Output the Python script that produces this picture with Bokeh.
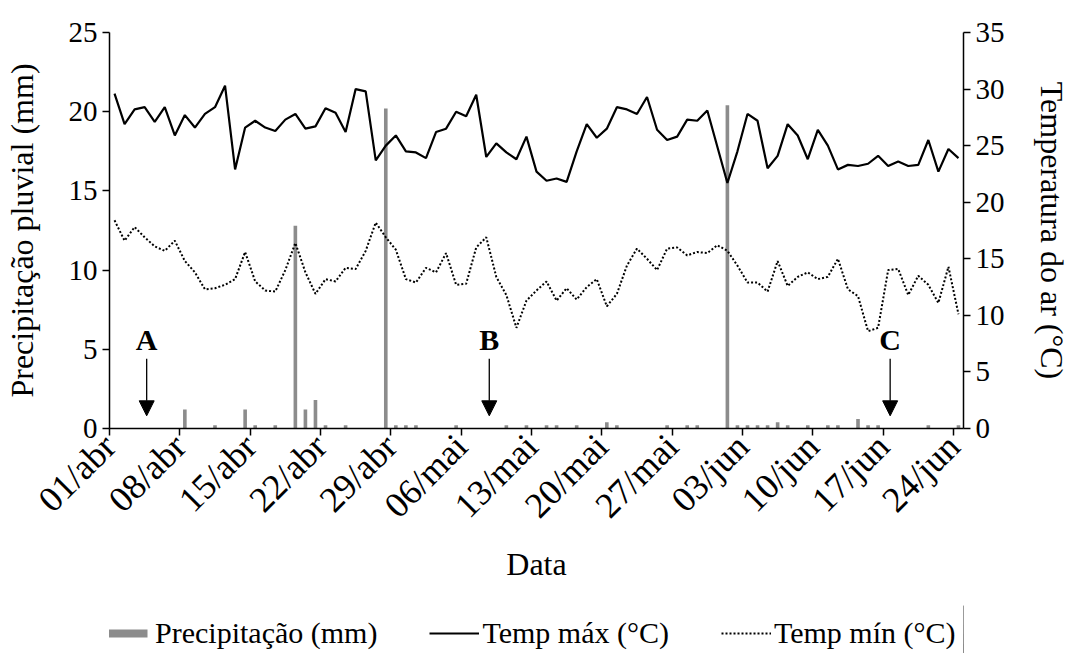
import math
import numpy as np
from bokeh.plotting import figure
from bokeh.layouts import column
from bokeh.models import (Range1d, LinearAxis, FixedTicker, Arrow, NormalHead,
                          Legend, LegendItem, ColumnDataSource)
from bokeh.core.properties import value
from bokeh.embed import file_html
from bokeh.resources import INLINE

# ---------------- data (daily, 01/abr .. 24/jun, 85 days) ----------------
n_days = 85
precip = [0, 0, 0, 0, 0, 0, 0, 1.2, 0, 0,
          0.2, 0, 0, 1.2, 0.2, 0, 0.2, 0, 12.8, 1.2,
          1.8, 0.2, 0, 0.2, 0, 0, 0, 20.2, 0.2, 0.2,
          0.2, 0, 0, 0, 0.2, 0, 0, 0, 0, 0.2,
          0, 0.2, 0, 0.2, 0.2, 0, 0.2, 0, 0, 0.4,
          0.2, 0, 0, 0, 0, 0.2, 0, 0.2, 0.2, 0,
          0, 20.4, 0.2, 0.2, 0.2, 0.2, 0.4, 0.2, 0, 0.2,
          0, 0.2, 0.2, 0, 0.6, 0.2, 0.2, 0, 0, 0,
          0, 0.2, 0, 0, 0.2]
tmax = [29.6, 26.9, 28.2, 28.4, 27.1, 28.4, 25.9, 27.7, 26.6, 27.8,
        28.4, 30.3, 22.9, 26.6, 27.2, 26.6, 26.3, 27.3, 27.8, 26.5,
        26.7, 28.3, 27.9, 26.2, 30.0, 29.8, 23.7, 25.0, 25.9, 24.5,
        24.4, 23.9, 26.2, 26.5, 28.0, 27.6, 29.5, 24.0, 25.2, 24.4,
        23.8, 25.8, 22.7, 21.9, 22.1, 21.8, 24.5, 26.9, 25.7, 26.5,
        28.4, 28.2, 27.8, 29.3, 26.4, 25.5, 25.8, 27.3, 27.2, 28.1,
        24.9, 21.7, 24.5, 27.8, 27.2, 23.0, 24.1, 26.9, 25.9, 23.8,
        26.4, 25.0, 22.9, 23.3, 23.2, 23.4, 24.1, 23.2, 23.6, 23.2,
        23.3, 25.5, 22.7, 24.7, 23.9]
tmin = [18.4, 16.6, 17.8, 16.9, 16.1, 15.7, 16.6, 14.8, 13.8, 12.3,
        12.4, 12.7, 13.2, 15.6, 13.0, 12.2, 12.1, 14.0, 16.4, 13.8,
        11.9, 13.2, 13.0, 14.2, 14.1, 15.7, 18.2, 16.9, 15.8, 13.2,
        12.9, 14.2, 13.8, 15.5, 12.7, 12.8, 16.0, 16.9, 13.4, 11.8,
        8.9, 11.3, 12.2, 13.0, 11.3, 12.4, 11.4, 12.5, 13.2, 10.8,
        11.9, 14.4, 15.9, 15.0, 14.0, 15.9, 16.0, 15.3, 15.6, 15.5,
        16.2, 15.7, 14.4, 12.9, 12.9, 12.1, 14.8, 12.6, 13.4, 13.8,
        13.2, 13.4, 15.0, 12.3, 11.7, 8.6, 8.9, 14.0, 14.1, 11.8,
        13.5, 12.7, 11.1, 14.3, 10.1]

tick_days = [0, 7, 14, 21, 28, 35, 42, 49, 56, 63, 70, 77, 84]
tick_labels = ["01/abr", "08/abr", "15/abr", "22/abr", "29/abr", "06/mai",
               "13/mai", "20/mai", "27/mai", "03/jun", "10/jun", "17/jun", "24/jun"]
precip_ticks = [0, 5, 10, 15, 20, 25]
temp_ticks = [0, 5, 10, 15, 20, 25, 30, 35]

stage_x = [3.7, 37.8, 77.7]
stage_labels = ["A", "B", "C"]

# category centres
xc = np.arange(n_days) + 0.5
src = ColumnDataSource(dict(x=xc, precip=precip, tmax=tmax, tmin=tmin))

FONT = "Liberation Serif"

p = figure(width=1072, height=605, output_backend="svg", toolbar_location=None,
           x_range=Range1d(0, n_days), y_range=Range1d(0, 25),
           min_border_left=108, min_border_right=105, min_border_top=32,
           min_border_bottom=177)
p.extra_y_ranges = {"temp": Range1d(0, 35)}
p.xgrid.visible = False
p.ygrid.visible = False
p.outline_line_color = None
p.background_fill_color = "white"
p.border_fill_color = "white"

BAR_KW = dict(width=0.36, bottom=0, fill_color="#8c8c8c", line_color=None)
MAX_KW = dict(line_color="black", line_width=2.2)
MIN_KW = dict(line_color="black", line_width=2, line_dash="2 2")

p.vbar(x="x", top="precip", source=src, **BAR_KW)
p.line(x="x", y="tmax", source=src, y_range_name="temp", **MAX_KW)
p.line(x="x", y="tmin", source=src, y_range_name="temp", **MIN_KW)

# stage arrows
for sx in stage_x:
    p.add_layout(Arrow(end=NormalHead(size=15, fill_color="black", line_color="black"),
                       x_start=sx, y_start=4.4, x_end=sx, y_end=0.8,
                       line_color="black", line_width=1.3))
p.text(x=stage_x, y=[5.65] * len(stage_x), text=stage_labels,
       text_font=value(FONT), text_font_style="bold", text_font_size="30px",
       text_align="center", text_baseline="middle", text_color="black")


def style(ax, tick_fs, title_fs="32px"):
    ax.axis_line_color = "black"
    ax.axis_line_width = 1.5
    ax.major_tick_line_color = "black"
    ax.major_tick_line_width = 1.5
    ax.major_tick_in = 0
    ax.major_tick_out = 7
    ax.minor_tick_line_color = None
    ax.major_label_text_font = FONT
    ax.major_label_text_font_size = tick_fs
    ax.major_label_text_color = "black"
    ax.axis_label_text_font = FONT
    ax.axis_label_text_font_size = title_fs
    ax.axis_label_text_font_style = "normal"
    ax.axis_label_text_color = "black"


xa = p.xaxis[0]
style(xa, "36px")
xa.ticker = FixedTicker(ticks=tick_days)
xa.major_label_overrides = {d: l for d, l in zip(tick_days, tick_labels)}
xa.major_label_orientation = math.pi / 4
xa.axis_label = "Data"
xa.axis_label_standoff = 4

ya = p.yaxis[0]
style(ya, "29px")
ya.ticker = FixedTicker(ticks=precip_ticks)
ya.axis_label = "Precipitação pluvial (mm)"
ya.axis_label_standoff = 26

# right temperature axis
ra = LinearAxis(y_range_name="temp", ticker=FixedTicker(ticks=temp_ticks),
                axis_label="Temperatura do ar (°C)")
style(ra, "29px")
ra.axis_label_standoff = 26
p.add_layout(ra, "right")

# ---------------- legend strip (same series, drawn off-range) ----------------
q = figure(width=1072, height=48, output_backend="svg", toolbar_location=None,
           x_range=Range1d(-20, -10), y_range=Range1d(0, 1),
           x_axis_type=None, y_axis_type=None,
           min_border_left=0, min_border_right=0, min_border_top=0,
           min_border_bottom=0)
q.xgrid.visible = False
q.ygrid.visible = False
q.outline_line_color = None
q.outline_line_width = 0
q.background_fill_color = None
q.border_fill_color = None
lb = q.vbar(x="x", top="precip", source=src, **BAR_KW)
lx = q.line(x="x", y="tmax", source=src, **MAX_KW)
ln = q.line(x="x", y="tmin", source=src, **MIN_KW)

legend = Legend(items=[LegendItem(label="Precipitação (mm)", renderers=[lb]),
                       LegendItem(label="Temp máx (°C)", renderers=[lx]),
                       LegendItem(label="Temp mín (°C)", renderers=[ln])],
                orientation="horizontal", location=(-7, 3))
legend.label_text_font = FONT
legend.label_text_font_size = "30px"
legend.label_text_color = "black"
legend.glyph_width = 50
legend.glyph_height = 10
legend.label_standoff = 3
legend.spacing = 52
legend.padding = 0
legend.margin = 0
legend.border_line_color = None
legend.background_fill_alpha = 0
q.add_layout(legend)

layout = column(p, q, spacing=0)
open("out.html", "w").write(file_html(layout, INLINE))
